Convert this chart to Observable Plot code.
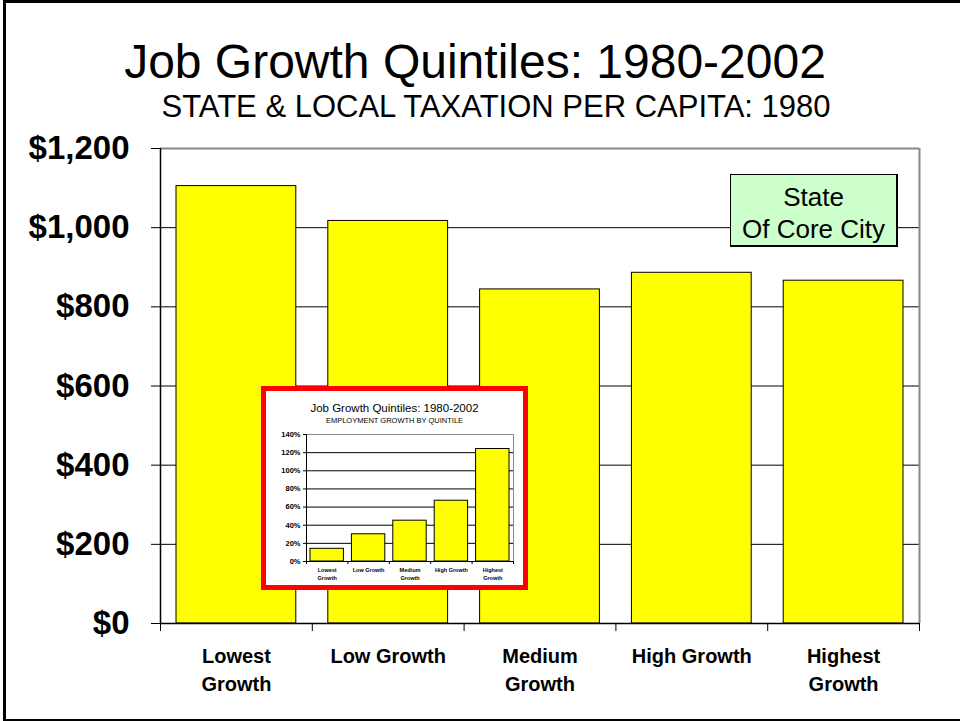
<!DOCTYPE html>
<html>
<head>
<meta charset="utf-8">
<script src="https://cdn.jsdelivr.net/npm/d3@7"></script>
<script src="https://cdn.jsdelivr.net/npm/@observablehq/plot@0.6"></script>
<style>
  html, body { margin: 0; padding: 0; background: white; }
  #wrap { position: relative; width: 960px; height: 721px; overflow: hidden; font-family: "Liberation Sans", Arial, sans-serif; }
  .abs { position: absolute; white-space: nowrap; }
</style>
</head>
<body>
<div id="wrap"></div>
<script>
// ---- Data ----
const categories = ["Lowest\nGrowth", "Low Growth", "Medium\nGrowth", "High Growth", "Highest\nGrowth"];
const taxPerCapita1980 = [1105, 1017, 844, 886, 866];
const employmentGrowthPct = [14, 30, 45, 67, 124];
const mainYTicks = [0, 200, 400, 600, 800, 1000, 1200];
const insetYTicks = [0, 20, 40, 60, 80, 100, 120, 140];
const mainTitle = "Job Growth Quintiles: 1980-2002";
const mainSubtitle = "STATE & LOCAL TAXATION PER CAPITA: 1980";
const insetTitle = "Job Growth Quintiles: 1980-2002";
const insetSubtitle = "EMPLOYMENT GROWTH BY QUINTILE";
const legendLines = ["State", "Of Core City"];

const mainData = categories.map((c, i) => ({i, label: c, value: taxPerCapita1980[i]}));
const insetData = categories.map((c, i) => ({i, label: c, value: employmentGrowthPct[i]}));
const bounds = d3.range(categories.length + 1);

const wrap = document.getElementById("wrap");
const font = "'Liberation Sans', Arial, sans-serif";

// outer frame
const frame = document.createElement("div");
frame.className = "abs";
Object.assign(frame.style, {left: "3px", top: "0px", width: "1000px", height: "716px", border: "3px solid black", boxSizing: "content-box"});
wrap.appendChild(frame);

// ---- Main chart ----
const main = Plot.plot({
  width: 960, height: 593,
  marginLeft: 160, marginRight: 41, marginTop: 20, marginBottom: 98,
  style: {fontFamily: font, fontWeight: "bold", background: "none", color: "black"},
  x: {type: "linear", domain: [0, categories.length]},
  y: {domain: [0, 1200]},
  marks: [
    Plot.ruleY(mainYTicks.filter(d => d > 0 && d < 1200), {stroke: "black", strokeWidth: 1}),
    Plot.rectY(mainData, {x1: "i", x2: d => d.i + 1, y1: 0, y2: "value", fill: "#ffff00", stroke: "black", strokeWidth: 1, insetLeft: 16, insetRight: 16}),
    Plot.ruleY([1200], {stroke: "#888", strokeWidth: 2}),
    Plot.ruleX([categories.length], {stroke: "#888", strokeWidth: 2}),
    Plot.ruleY([0], {stroke: "black", strokeWidth: 1.5}),
    Plot.ruleX([0], {stroke: "black", strokeWidth: 1.5}),
    Plot.axisY({ticks: mainYTicks, tickFormat: d => "$" + d3.format(",")(d), tickSize: 9, tickPadding: 22, fontSize: 33, label: null}),
    Plot.axisX({ticks: bounds, tickFormat: () => "", tickSize: 8, label: null}),
    Plot.text(mainData, {x: d => d.i + 0.5, y: 0, text: "label", lineAnchor: "top", dy: 19, fontSize: 20, lineHeight: 1.42, fill: "black"})
  ]
});
Object.assign(main.style, {position: "absolute", left: "0px", top: "128px"});
wrap.appendChild(main);

// ---- Inset ----
const insetBox = document.createElement("div");
insetBox.className = "abs";
Object.assign(insetBox.style, {left: "261px", top: "386px", width: "257px", height: "194px", border: "5px solid #ff0000", background: "white", boxSizing: "content-box"});
wrap.appendChild(insetBox);

const inset = Plot.plot({
  width: 257, height: 167,
  marginLeft: 40, marginRight: 10, marginTop: 16, marginBottom: 24,
  style: {fontFamily: font, fontWeight: "bold", background: "none", color: "black"},
  x: {type: "linear", domain: [0, categories.length]},
  y: {domain: [0, 140]},
  marks: [
    Plot.ruleY(insetYTicks.filter(d => d > 0 && d < 140), {stroke: "black", strokeWidth: 1}),
    Plot.rectY(insetData, {x1: "i", x2: d => d.i + 1, y1: 0, y2: "value", fill: "#ffff00", stroke: "black", strokeWidth: 1, insetLeft: 4, insetRight: 4}),
    Plot.ruleY([140], {stroke: "#888", strokeWidth: 1}),
    Plot.ruleX([categories.length], {stroke: "#888", strokeWidth: 1}),
    Plot.ruleY([0], {stroke: "black"}),
    Plot.ruleX([0], {stroke: "black"}),
    Plot.axisY({ticks: insetYTicks, tickFormat: d => d + "%", tickSize: 3, tickPadding: 3, fontSize: 7.5, label: null}),
    Plot.axisX({ticks: bounds, tickFormat: () => "", tickSize: 3, label: null}),
    Plot.text(insetData, {x: d => d.i + 0.5, y: 0, text: "label", lineAnchor: "top", dy: 5, fontSize: 5.5, lineHeight: 1.45, fill: "black"})
  ]
});
Object.assign(inset.style, {position: "absolute", left: "266px", top: "418px"});
wrap.appendChild(inset);

function addText(txt, left, top, width, size, extra) {
  const d = document.createElement("div");
  d.className = "abs";
  d.textContent = txt;
  Object.assign(d.style, {left: left + "px", top: top + "px", width: width + "px", textAlign: "center", fontSize: size + "px", lineHeight: "1", color: "black"}, extra || {});
  wrap.appendChild(d);
  return d;
}

addText(mainTitle, 0, 38, 950, 48);
addText(mainSubtitle, 0, 91, 992, 31);
addText(insetTitle, 266, 403, 257, 11.5);
addText(insetSubtitle, 266, 417, 257, 7.5);

// legend box
const legend = document.createElement("div");
legend.className = "abs";
Object.assign(legend.style, {left: "730px", top: "174px", width: "168px", height: "73px", background: "#ccffcc", border: "1px solid black", borderRightWidth: "2px", borderBottomWidth: "2px", textAlign: "center", fontSize: "26px", lineHeight: "32px", paddingTop: "6px", boxSizing: "border-box"});
legend.innerHTML = legendLines.join("<br>");
wrap.appendChild(legend);
</script>
</body>
</html>
